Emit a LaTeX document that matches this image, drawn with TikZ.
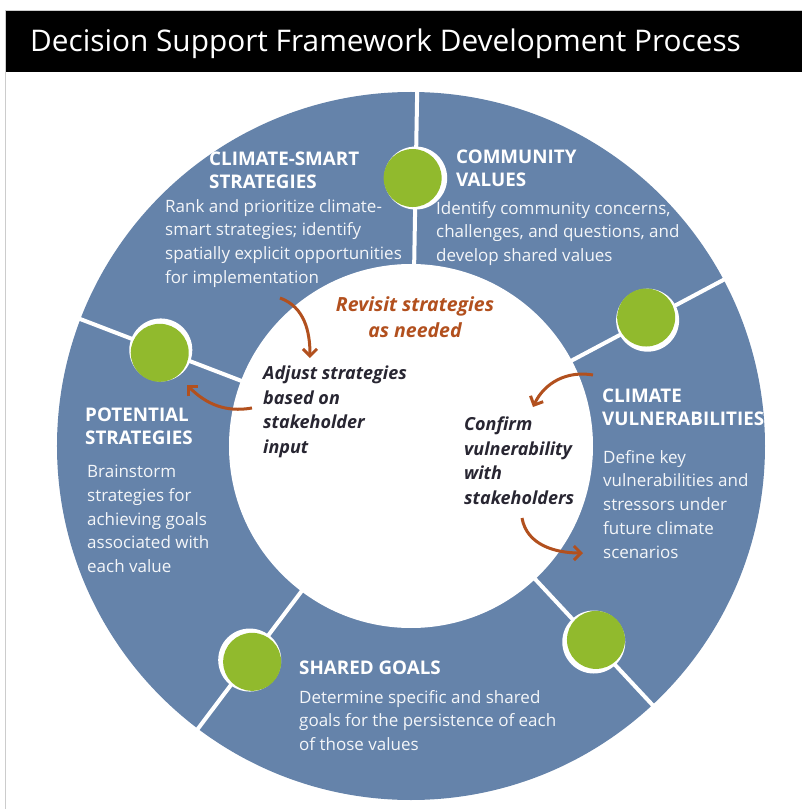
\documentclass[tikz,border=0pt]{standalone}
\usepackage{fontspec}
\setmainfont{Open Sans}
\usetikzlibrary{arrows.meta}

\definecolor{ring}{RGB}{101,131,170}
\definecolor{lime}{RGB}{145,186,45}
\definecolor{rost}{RGB}{178,80,30}
\definecolor{mork}{RGB}{40,38,50}
\definecolor{ljus}{RGB}{244,246,249}

\tikzset{
	rubrik/.style={anchor=north west, inner sep=0pt, align=left, text=white, font=\bfseries\fontsize{18.8}{23}\selectfont},
	brod/.style={anchor=north west, inner sep=0pt, align=left, text=ljus, font=\fontsize{17}{23.7}\selectfont},
	mitt/.style={anchor=north west, inner sep=0pt, align=left, text=mork, font=\bfseries\itshape\fontsize{18}{24.5}\selectfont},
	pil/.style={rost, line width=3pt, -{Straight Barb[length=7pt,width=14pt]}}
}

\begin{document}
\begin{tikzpicture}[x=1pt, y=1pt]
		\useasboundingbox (-411, -363) rectangle (390, 446);
		\fill [white] (-411, -363) rectangle (390, 446);
		\draw [gray!40, line width=1pt] (-405, -370) rectangle (400, 435); % Ramen
		\fill [black] (-405, 374) rectangle (395, 435); % Rubrikfältet
		\node [anchor=north west, inner sep=0pt, text=white, font=\fontsize{29.8}{32}\selectfont] (titel) at (-381, 417) {Decision Support Framework Development Process};
		
		\fill [ring] (0, 0) circle [radius=354]; % Ringen
		\fill [white] (0, 0) circle [radius=182];
		
		\draw [white, line width=4pt] (89:180) -- (89:356); % Skiljelinjer
		\draw [white, line width=4pt] (28:180) -- (28:356);
		\draw [white, line width=4pt] (-47:180) -- (-47:356);
		\draw [white, line width=4pt] (-127:180) -- (-127:356);
		\draw [white, line width=4pt] (159:180) -- (159:356);
		
		\fill [white] (89:268) circle [radius=31.5]; % Gröna prickar
		\fill [lime] (89.65:268) circle [radius=29];
		\fill [white] (28:268) circle [radius=31.5];
		\fill [lime] (28.65:268) circle [radius=29];
		\fill [white] (-47:268) circle [radius=31.5];
		\fill [lime] (-46.35:268) circle [radius=29];
		\fill [white] (-127:268) circle [radius=31.5];
		\fill [lime] (-126.35:268) circle [radius=29];
		\fill [white] (159:268) circle [radius=31.5];
		\fill [lime] (159.65:268) circle [radius=29];
		
		\node [rubrik] (smartrub) at (-202, 294) {CLIMATE-SMART\\STRATEGIES}; % Stegens texter
		\node [brod] (smarttxt) at (-246, 247) {Rank and prioritize climate-\\smart strategies; identify\\spatially explicit opportunities\\for implementation};
		\node [rubrik] (vardrub) at (45, 296) {COMMUNITY\\VALUES};
		\node [brod] (vardtxt) at (25, 245) {Identify community concerns,\\challenges, and questions, and\\develop shared values};
		\node [rubrik] (sarbrub) at (191, 57) {CLIMATE\\VULNERABILITIES};
		\node [brod] (sarbtxt) at (192, -4) {Define key\\vulnerabilities and\\stressors under\\future climate\\scenarios};
		\node [rubrik] (potrub) at (-326, 38) {POTENTIAL\\STRATEGIES};
		\node [brod] (pottxt) at (-324, -19) {Brainstorm\\strategies for\\achieving goals\\associated with\\each value};
		\node [rubrik] (malrub) at (-112, -215) {SHARED GOALS};
		\node [brod] (maltxt) at (-112, -244) {Determine specific and shared\\goals for the persistence of each\\of those values};
		
		\node [mitt] (justera) at (-148, 80) {Adjust strategies\\based on\\stakeholder\\input}; % Mitten
		\node [mitt] (bekrafta) at (53, 29) {Confirm\\vulnerability\\with\\stakeholders};
		\node [anchor=north, inner sep=0pt, align=center, text=rost, font=\bfseries\itshape\fontsize{19.5}{26}\selectfont] (omprova) at (4, 150) {Revisit strategies\\as needed};
		
		\coordinate (p1a) at (-131, 148); % Pilarna
		\coordinate (p1b) at (-101, 88);
		\coordinate (p2a) at (-159, 38);
		\coordinate (p2b) at (-224, 61);
		\coordinate (p3a) at (182, 71);
		\coordinate (p3b) at (122, 39);
		\coordinate (p4a) at (111, -72);
		\coordinate (p4b) at (172, -107);
		\draw [pil] (p1a) to [out=-20, in=90] (p1b);
		\draw [pil] (p2a) to [out=190, in=-45] (p2b);
		\draw [pil] (p3a) to [out=170, in=65] (p3b);
		\draw [pil] (p4a) to [out=-80, in=180] (p4b);
	\end{tikzpicture}
\end{document}
